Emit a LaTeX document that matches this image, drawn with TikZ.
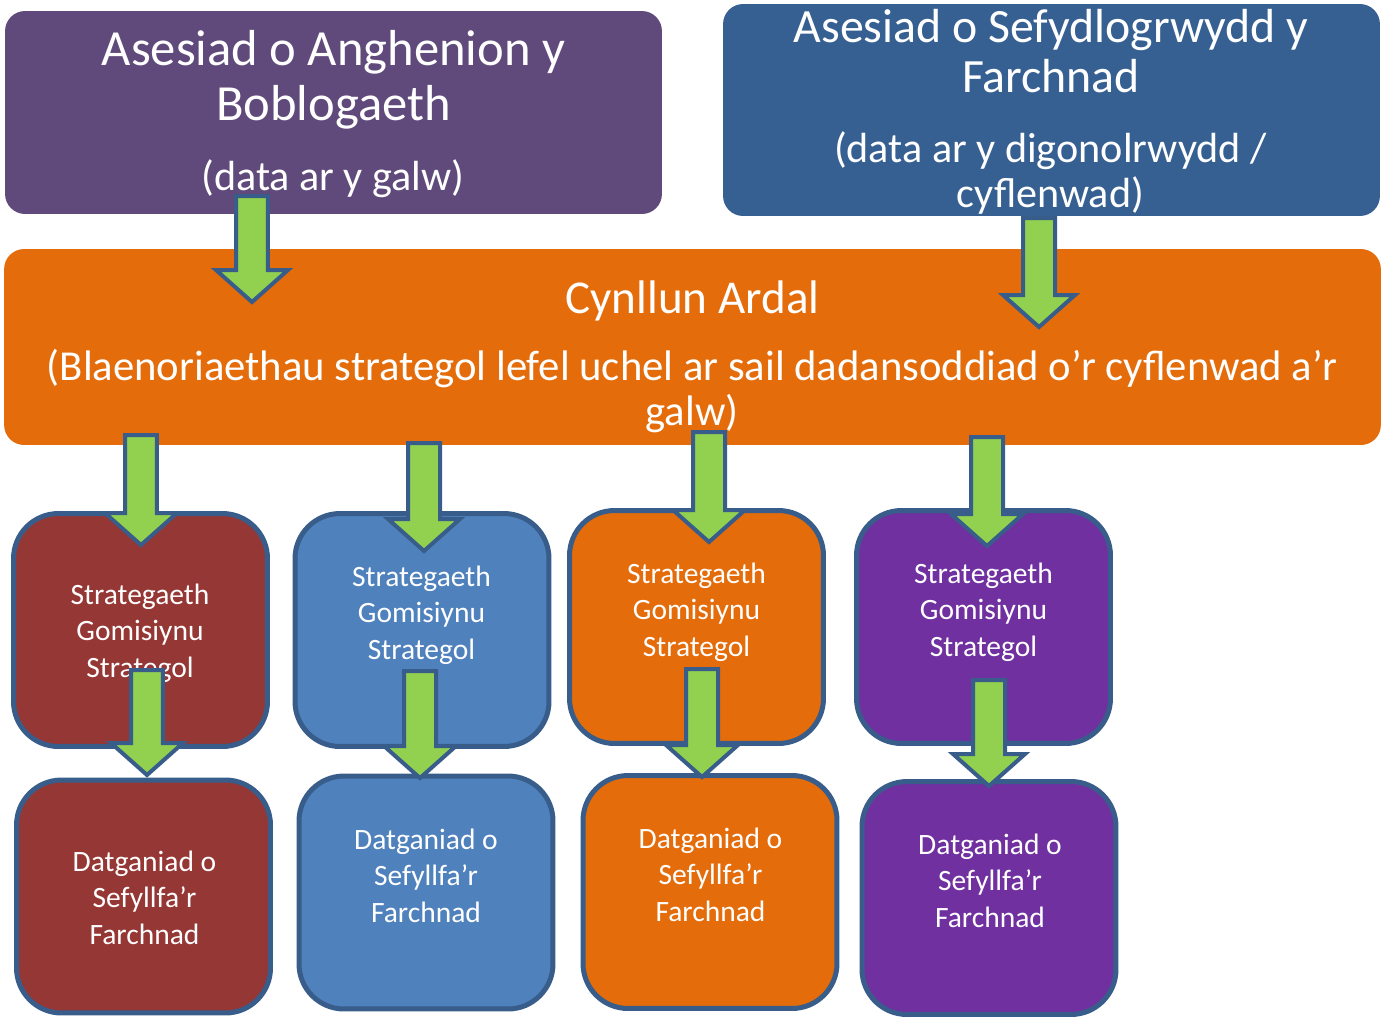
\documentclass[tikz,border=0pt]{standalone}
\usepackage{fontspec}
\setmainfont{Carlito}
\usetikzlibrary{calc}

\definecolor{needpurple}{HTML}{604A7B}
\definecolor{supplyblue}{HTML}{376092}
\definecolor{planorange}{HTML}{E46C0A}
\definecolor{stratred}{HTML}{953735}
\definecolor{stratblue}{HTML}{4F81BD}
\definecolor{stratpurple}{HTML}{7030A0}
\definecolor{edgeblue}{HTML}{385D8A}
\definecolor{arrowgreen}{HTML}{92D050}

% block arrow from #1 (top of shaft) down to #2 (tip)
\newcommand{\flowarrow}[2]{%
  \draw[flow] let \p1=(#1), \p2=(#2) in
    (\x1-0.32cm,\y1) -- (\x1+0.32cm,\y1) -- (\x1+0.32cm,\y2+0.64cm)
    -- (\x1+0.72cm,\y2+0.64cm) -- (\x1,\y2) -- (\x1-0.72cm,\y2+0.64cm)
    -- (\x1-0.32cm,\y2+0.64cm) -- cycle;}

\begin{document}
\begin{tikzpicture}[x=0.02cm, y=-0.02cm,
  topbox/.style={rounded corners=0.4cm, inner sep=0, minimum width=13.14cm},
  smallbox/.style={draw=edgeblue, line width=0.1cm, rounded corners=0.9cm,
    inner sep=0, minimum width=5.08cm, minimum height=4.66cm},
  headtext/.style={text=white, align=center, anchor=base, inner sep=0},
  boxtext/.style={headtext, font=\fontsize{16.8}{20.5}\selectfont},
  flow/.style={fill=arrowgreen, draw=edgeblue, line width=0.08cm, line join=miter}]
\useasboundingbox (0,0) rectangle (1384,1019);

% top row (text nodes sit on the baseline of their last line)
\node[topbox, fill=needpurple, minimum height=4.06cm] (need) at (333.5,112.5) {};
\node[topbox, fill=supplyblue, minimum height=4.24cm] (supply) at (1051.5,110) {};
\node[headtext, font=\fontsize{28.8}{31.3}\selectfont] (needt) at (333.5,120) {Asesiad o Anghenion y\\Boblogaeth};
\node[headtext, font=\fontsize{24}{25.6}\selectfont] (needs) at (333,190) {(data ar y galw)};
\node[headtext, font=\fontsize{27.2}{28.45}\selectfont] (supplyt) at (1051,92) {Asesiad o Sefydlogrwydd y\\Farchnad};
\node[headtext, font=\fontsize{24}{25.6}\selectfont] (supplys) at (1050.5,207) {(data ar y digonolrwydd /\\cyflenwad)};

% area plan
\node[rounded corners=0.4cm, inner sep=0, fill=planorange, minimum width=27.54cm, minimum height=3.92cm] (plan) at (692.5,347) {};
\node[headtext, font=\fontsize{26.8}{28}\selectfont] (plant) at (692.5,313) {Cynllun Ardal};
\node[headtext, font=\fontsize{24.3}{25.6}\selectfont] (plans) at (692,425) {(Blaenoriaethau strategol lefel uchel ar sail dadansoddiad o’r cyflenwad a’r\\galw)};

% strategies
\node[smallbox, fill=stratred] (s1) at (140.5,630) {};
\node[smallbox, fill=stratblue] (s2) at (422,630) {};
\node[smallbox, fill=planorange] (s3) at (696.5,627) {};
\node[smallbox, fill=stratpurple] (s4) at (983.5,627) {};
\node[boxtext] (s1t) at (140,677) {Strategaeth\\Gomisiynu\\Strategol};
\node[boxtext] (s2t) at (421.5,659) {Strategaeth\\Gomisiynu\\Strategol};
\node[boxtext] (s3t) at (696.5,656) {Strategaeth\\Gomisiynu\\Strategol};
\node[boxtext] (s4t) at (983.5,656) {Strategaeth\\Gomisiynu\\Strategol};

% market position statements
\node[smallbox, fill=stratred] (d1) at (143.5,896.5) {};
\node[smallbox, fill=stratblue] (d2) at (426,892.5) {};
\node[smallbox, fill=planorange] (d3) at (710,892) {};
\node[smallbox, fill=stratpurple] (d4) at (989,898) {};
\node[boxtext] (d1t) at (144.5,944) {Datganiad o\\Sefyllfa’r\\Farchnad};
\node[boxtext] (d2t) at (426,922) {Datganiad o\\Sefyllfa’r\\Farchnad};
\node[boxtext] (d3t) at (710.5,921) {Datganiad o\\Sefyllfa’r\\Farchnad};
\node[boxtext] (d4t) at (990,927) {Datganiad o\\Sefyllfa’r\\Farchnad};

% arrow ends
\coordinate (needout) at (252,196);
\coordinate (planin1) at (252,302);
\coordinate (supplyout) at (1039,218);
\coordinate (planin2) at (1039,327);
\coordinate (planout1) at (141,435);
\coordinate (s1in) at (141,545);
\coordinate (planout2) at (424,443);
\coordinate (s2in) at (424,551);
\coordinate (planout3) at (709,432);
\coordinate (s3in) at (709,542);
\coordinate (planout4) at (987,437);
\coordinate (s4in) at (987,546);
\coordinate (s1out) at (147,670);
\coordinate (d1in) at (147,775);
\coordinate (s2out) at (420,671);
\coordinate (d2in) at (420,778);
\coordinate (s3out) at (702,669);
\coordinate (d3in) at (702,777);
\coordinate (s4out) at (989,680);
\coordinate (d4in) at (989,786);

\flowarrow{needout}{planin1}
\flowarrow{supplyout}{planin2}
\flowarrow{planout1}{s1in}
\flowarrow{planout2}{s2in}
\flowarrow{planout3}{s3in}
\flowarrow{planout4}{s4in}
\flowarrow{s1out}{d1in}
\flowarrow{s2out}{d2in}
\flowarrow{s3out}{d3in}
\flowarrow{s4out}{d4in}
\end{tikzpicture}
\end{document}
